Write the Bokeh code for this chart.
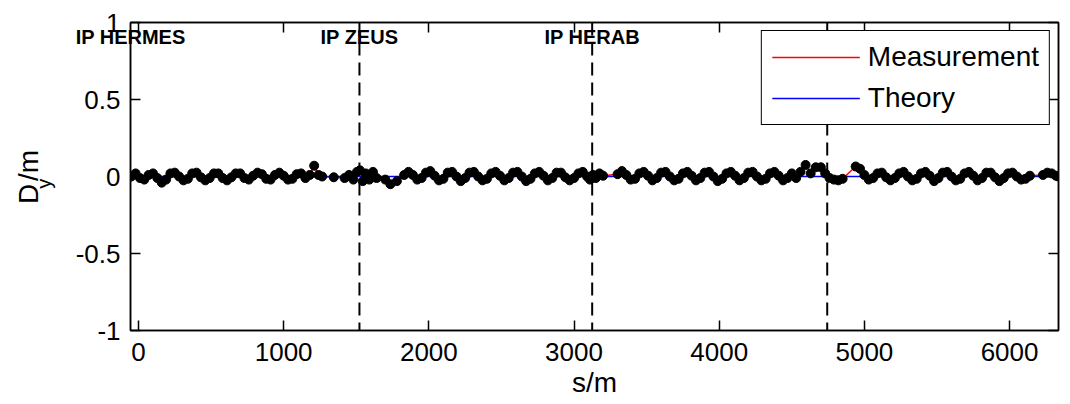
import math
from bokeh.plotting import figure
from bokeh.layouts import row
from bokeh.models import (Range1d, LinearAxis, FixedTicker, Span, Legend,
                          LegendItem, CustomJSTickFormatter)
from bokeh.core.properties import value
from bokeh.embed import file_html
from bokeh.resources import INLINE

# ---------------- data ----------------
x_ticks = [0, 1000, 2000, 3000, 4000, 5000, 6000]
x_tick_labels = ["0", "1000", "2000", "3000", "4000", "5000", "6000"]
y_ticks = [-1, -0.5, 0, 0.5, 1]
y_tick_labels = ["-1", "-0.5", "0", "0.5", "1"]

ip_lines_s = [1522, 3125, 4744]
ip_label_s = [-54, 1522, 3125]
ip_label_text = ["IP HERMES", "IP ZEUS", "IP HERAB"]

meas_s = (
    [-50, -20, 10, 40, 70, 100, 130, 160, 190, 220, 250, 280, 310, 340, 370, 400,
     430, 460, 490, 520, 550, 580, 610, 640, 670, 700, 730, 760, 790, 820, 850,
     880, 910, 940, 970, 1000, 1030, 1060, 1090, 1120, 1150, 1180, 1210]
    + [1240, 1265, 1345, 1420, 1450, 1480, 1505, 1525, 1545, 1565, 1590, 1615,
       1640, 1700, 1735, 1780]
    + [1830, 1860, 1890, 1920, 1950, 1980, 2010, 2040, 2070, 2100, 2130, 2160,
       2190, 2220, 2250, 2280, 2310, 2340, 2370, 2400, 2430, 2460, 2490, 2520,
       2550, 2580, 2610, 2640, 2670, 2700, 2730, 2760, 2790, 2820, 2850, 2880,
       2910, 2940, 2970, 3000, 3030, 3060, 3090]
    + [3110, 3130, 3150, 3175, 3200]
    + [3300, 3330, 3360, 3390, 3420, 3450, 3480, 3510, 3540, 3570, 3600, 3630,
       3660, 3690, 3720, 3750, 3780, 3810, 3840, 3870, 3900, 3930, 3960, 3990,
       4020, 4050, 4080, 4110, 4140, 4170, 4200, 4230, 4260, 4290, 4320, 4350,
       4380, 4410, 4440, 4470, 4500, 4530, 4560]
    + [4595, 4630, 4665, 4700, 4730, 4760, 4790, 4820, 4850]
    + [4940, 4970, 5000, 5030, 5060, 5090, 5120, 5150, 5180, 5210, 5240, 5270,
       5300, 5330, 5360, 5390, 5420, 5450, 5480, 5510, 5540, 5570, 5600, 5630,
       5660, 5690, 5720, 5750, 5780, 5810, 5840, 5870, 5900, 5930, 5960, 5990,
       6020, 6050, 6080, 6110, 6140]
    + [6230, 6260, 6290, 6320, 6336]
)

meas_dy = (
    [0.00, 0.02, -0.01, -0.02, 0.01, 0.02, -0.01, -0.04, -0.02, 0.02,
     0.025, 0.00, -0.025, -0.015, 0.02, 0.025, -0.005, -0.025, -0.01, 0.02,
     0.02, -0.01, -0.025, -0.005, 0.02, 0.02, -0.01, -0.02, 0.005, 0.025,
     0.015, -0.015, -0.02, 0.01, 0.025, 0.005, -0.02, -0.015, 0.015, 0.02,
     -0.01, 0.01, 0.07]
    + [0.01, 0.0, -0.005, -0.01, 0.01, -0.02, 0.03, 0.04, -0.03, 0.02, -0.02,
       0.03, -0.01, -0.02, -0.05, -0.03]
    + [0.01, 0.03, 0.01, -0.02, -0.01, 0.025, 0.035, 0.005, -0.025, -0.015,
       0.025, 0.03, 0.0, -0.03, -0.01, 0.025, 0.03, 0.0, -0.025, -0.015,
       0.02, 0.03, 0.005, -0.025, -0.01, 0.025, 0.03, 0.0, -0.03, -0.015,
       0.02, 0.03, 0.005, -0.025, -0.01, 0.025, 0.025, -0.005, -0.025, -0.01,
       0.02, 0.03, 0.0]
    + [-0.02, 0.01, -0.01, 0.02, 0.005]
    + [0.015, 0.035, 0.01, -0.02, -0.015, 0.02, 0.03, 0.005, -0.025, -0.01,
       0.025, 0.03, 0.0, -0.025, -0.015, 0.02, 0.03, 0.005, -0.025, -0.01,
       0.025, 0.03, 0.0, -0.03, -0.015, 0.02, 0.03, 0.005, -0.025, -0.01,
       0.025, 0.03, 0.0, -0.025, -0.015, 0.02, 0.03, 0.005, -0.025, -0.01,
       0.02, -0.01, 0.03]
    + [0.075, 0.02, 0.06, 0.06, 0.02, -0.01, -0.02, -0.025, -0.015]
    + [0.065, 0.05, 0.01, -0.02, -0.01, 0.02, 0.025, -0.005, -0.025, -0.01,
       0.02, 0.03, 0.0, -0.025, -0.015, 0.02, 0.03, 0.005, -0.03, -0.01,
       0.025, 0.03, 0.0, -0.025, -0.015, 0.02, 0.03, 0.005, -0.025, -0.01,
       0.025, 0.025, -0.005, -0.03, -0.01, 0.02, 0.025, 0.0, -0.02, -0.015,
       0.005]
    + [0.01, 0.025, 0.02, 0.005, 0.0]
)
assert len(meas_s) == len(meas_dy)

theory_s = [-50, 1240, 1522, 1830, 3125, 3300, 4744, 4940, 6336]
theory_dy = [0.0, 0.0, 0.0, 0.0, 0.0, 0.0, 0.0, 0.0, 0.0]

FONT = "Liberation Sans"

# ---------------- y-axis title panel ----------------
LW = 66
pl = figure(width=LW, height=404, output_backend="svg", toolbar_location=None,
            title=None, x_range=Range1d(0, LW), y_range=Range1d(0, 404),
            x_axis_location=None, y_axis_location=None,
            min_border=0, min_border_left=0, min_border_right=0,
            min_border_top=0, min_border_bottom=0, outline_line_color=None)
pl.xgrid.visible = False
pl.ygrid.visible = False
pl.border_fill_color = "white"
pl.background_fill_color = "white"
ang = math.pi / 2
pl.text(x=[28], y=[166], text=["D"], angle=ang, text_align="left",
        text_baseline="alphabetic", text_font=value(FONT),
        text_font_size="28px", text_color="black")
pl.text(x=[43], y=[186], text=["y"], angle=ang, text_align="left",
        text_baseline="alphabetic", text_font=value(FONT),
        text_font_size="20px", text_color="black")
pl.text(x=[28], y=[196], text=["/m"], angle=ang, text_align="left",
        text_baseline="alphabetic", text_font=value(FONT),
        text_font_size="28px", text_color="black")

# ---------------- main figure ----------------
p = figure(width=1070 - LW, height=404, output_backend="svg", toolbar_location=None,
           title=None, x_range=Range1d(-55, 6337), y_range=Range1d(-1, 1),
           min_border_left=130 - LW, min_border_right=12, min_border_top=22,
           min_border_bottom=74)
p.xgrid.visible = False
p.ygrid.visible = False
p.outline_line_color = "black"
p.outline_line_width = 1.5
p.background_fill_color = "white"
p.border_fill_color = "white"

for ax, ticks, labels in ((p.xaxis[0], x_ticks, x_tick_labels),
                          (p.yaxis[0], y_ticks, y_tick_labels)):
    ax.ticker = FixedTicker(ticks=ticks)
    ax.major_label_overrides = dict(zip(ticks, labels))
    ax.major_tick_in = 10
    ax.major_tick_out = 0
    ax.major_tick_line_width = 1.5
    ax.major_tick_line_color = "black"
    ax.minor_tick_line_color = None
    ax.axis_line_width = 1.5
    ax.axis_line_color = "black"
    ax.major_label_text_font = FONT
    ax.major_label_text_font_size = "26px"
    ax.major_label_text_color = "black"
    ax.axis_label_text_font = FONT
    ax.axis_label_text_font_style = "normal"
    ax.axis_label_text_color = "black"

p.xaxis[0].major_label_standoff = 12
p.xaxis[0].axis_label = "s/m"
p.xaxis[0].axis_label_text_font_size = "28px"
p.xaxis[0].axis_label_standoff = 3
p.yaxis[0].major_label_standoff = 10

blank = CustomJSTickFormatter(code="return ''")
for loc, ticks in (("above", x_ticks), ("right", y_ticks)):
    a = LinearAxis(ticker=FixedTicker(ticks=ticks), formatter=blank,
                   major_tick_in=10, major_tick_out=0, major_tick_line_width=1.5,
                   major_tick_line_color="black", axis_line_color="black",
                   minor_tick_line_color=None, axis_line_width=1.5,
                   major_label_text_font_size="1px", major_label_standoff=0)
    p.add_layout(a, loc)

# IP labels drawn as labels of an extra (invisible) top axis so that they are
# not clipped by the frame
ip_axis = LinearAxis(ticker=FixedTicker(ticks=ip_label_s),
                     major_label_overrides=dict(zip(ip_label_s, ip_label_text)),
                     major_tick_line_color=None, minor_tick_line_color=None,
                     axis_line_color=None, major_tick_in=0, major_tick_out=0,
                     major_label_text_font=FONT, major_label_text_font_style="bold",
                     major_label_text_font_size="20px",
                     major_label_text_color="black",
                     major_label_standoff=-25)
p.add_layout(ip_axis, "above")

# IP dashed lines
for s in ip_lines_s:
    p.add_layout(Span(location=s, dimension="height", line_color="black",
                      line_width=2, line_dash="13 7"))

# data
r_meas = p.line(meas_s, meas_dy, line_color="#ff0000", line_width=1.5)
r_theo = p.line(theory_s, theory_dy, line_color="#0000ff", line_width=1.5)
p.scatter(meas_s, meas_dy, marker="circle", size=9, fill_color="black",
          line_color="black")

legend = Legend(items=[LegendItem(label="Measurement", renderers=[r_meas]),
                       LegendItem(label="Theory", renderers=[r_theo])],
                location="top_right", margin=8, padding=10, spacing=9,
                glyph_width=88, glyph_height=28, label_height=28,
                label_standoff=8, label_text_font=FONT,
                label_text_font_size="28px", label_text_color="black",
                border_line_color="black", border_line_alpha=1.0,
                border_line_width=1.5, background_fill_alpha=1.0)
p.add_layout(legend)

layout = row(pl, p, spacing=0)
open("out.html", "w").write(file_html(layout, INLINE))
